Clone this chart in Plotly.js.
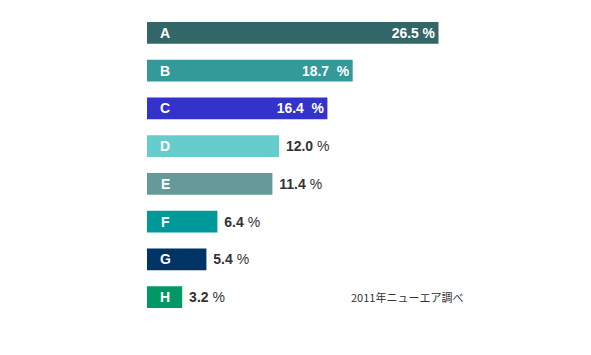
<!DOCTYPE html>
<html>
<head>
<meta charset="utf-8">
<script src="https://cdn.plot.ly/plotly-3.0.1.min.js"></script>
<style>html,body{margin:0;padding:0;background:#fff;}#chart{width:591px;height:355px;}</style>
</head>
<body>
<div id="chart"></div>
<script>
const categories = ['A', 'B', 'C', 'D', 'E', 'F', 'G', 'H'];
const values = [26.5, 18.7, 16.4, 12.0, 11.4, 6.4, 5.4, 3.2];
const barColors = ['#336666', '#339999', '#3333cc', '#66cccc', '#669999', '#009999', '#003366', '#009966'];
const labelInside = [true, true, true, false, false, false, false, false];
const sourceNote = '2011年ニューエア調べ';

const labels = values.map((v, i) => labelInside[i]
  ? v.toFixed(1) + (i === 0 ? ' %' : '  %')
  : ' <b>' + v.toFixed(1) + '</b> %');

const trace = {
  type: 'bar',
  orientation: 'h',
  x: values,
  y: categories,
  marker: { color: barColors },
  width: 0.58,
  text: labels,
  textposition: labelInside.map(b => b ? 'inside' : 'outside'),
  insidetextanchor: 'end',
  textangle: 0,
  cliponaxis: false,
  insidetextfont: { family: 'Liberation Sans, Arial, sans-serif', size: 14, color: '#ffffff', weight: 'bold' },
  outsidetextfont: { family: 'Liberation Sans, Arial, sans-serif', size: 14, color: '#333333' },
  hoverinfo: 'none'
};

const annotations = categories.map(c => ({
  x: 0, y: c, xref: 'x', yref: 'y',
  text: '<b>' + c + '</b>',
  showarrow: false, xanchor: 'center', xshift: 18,
  font: { family: 'Liberation Sans, Arial, sans-serif', size: 14, color: '#ffffff' }
}));
annotations.push({
  x: 0.459, y: 0.063, xref: 'paper', yref: 'paper',
  text: sourceNote, showarrow: false, xanchor: 'left', yanchor: 'middle',
  font: { family: 'Noto Sans CJK JP, sans-serif', size: 11, color: '#333333' }
});

const layout = {
  width: 591, height: 355,
  margin: { l: 147, r: 4, t: 14, b: 39, pad: 0 },
  paper_bgcolor: '#ffffff', plot_bgcolor: '#ffffff',
  showlegend: false,
  xaxis: { range: [0, 40], visible: false, fixedrange: true },
  yaxis: { autorange: 'reversed', visible: false, fixedrange: true },
  annotations: annotations,
  uniformtext: { mode: false }
};

Plotly.newPlot('chart', [trace], layout, { displayModeBar: false, staticPlot: true });
</script>
</body>
</html>
